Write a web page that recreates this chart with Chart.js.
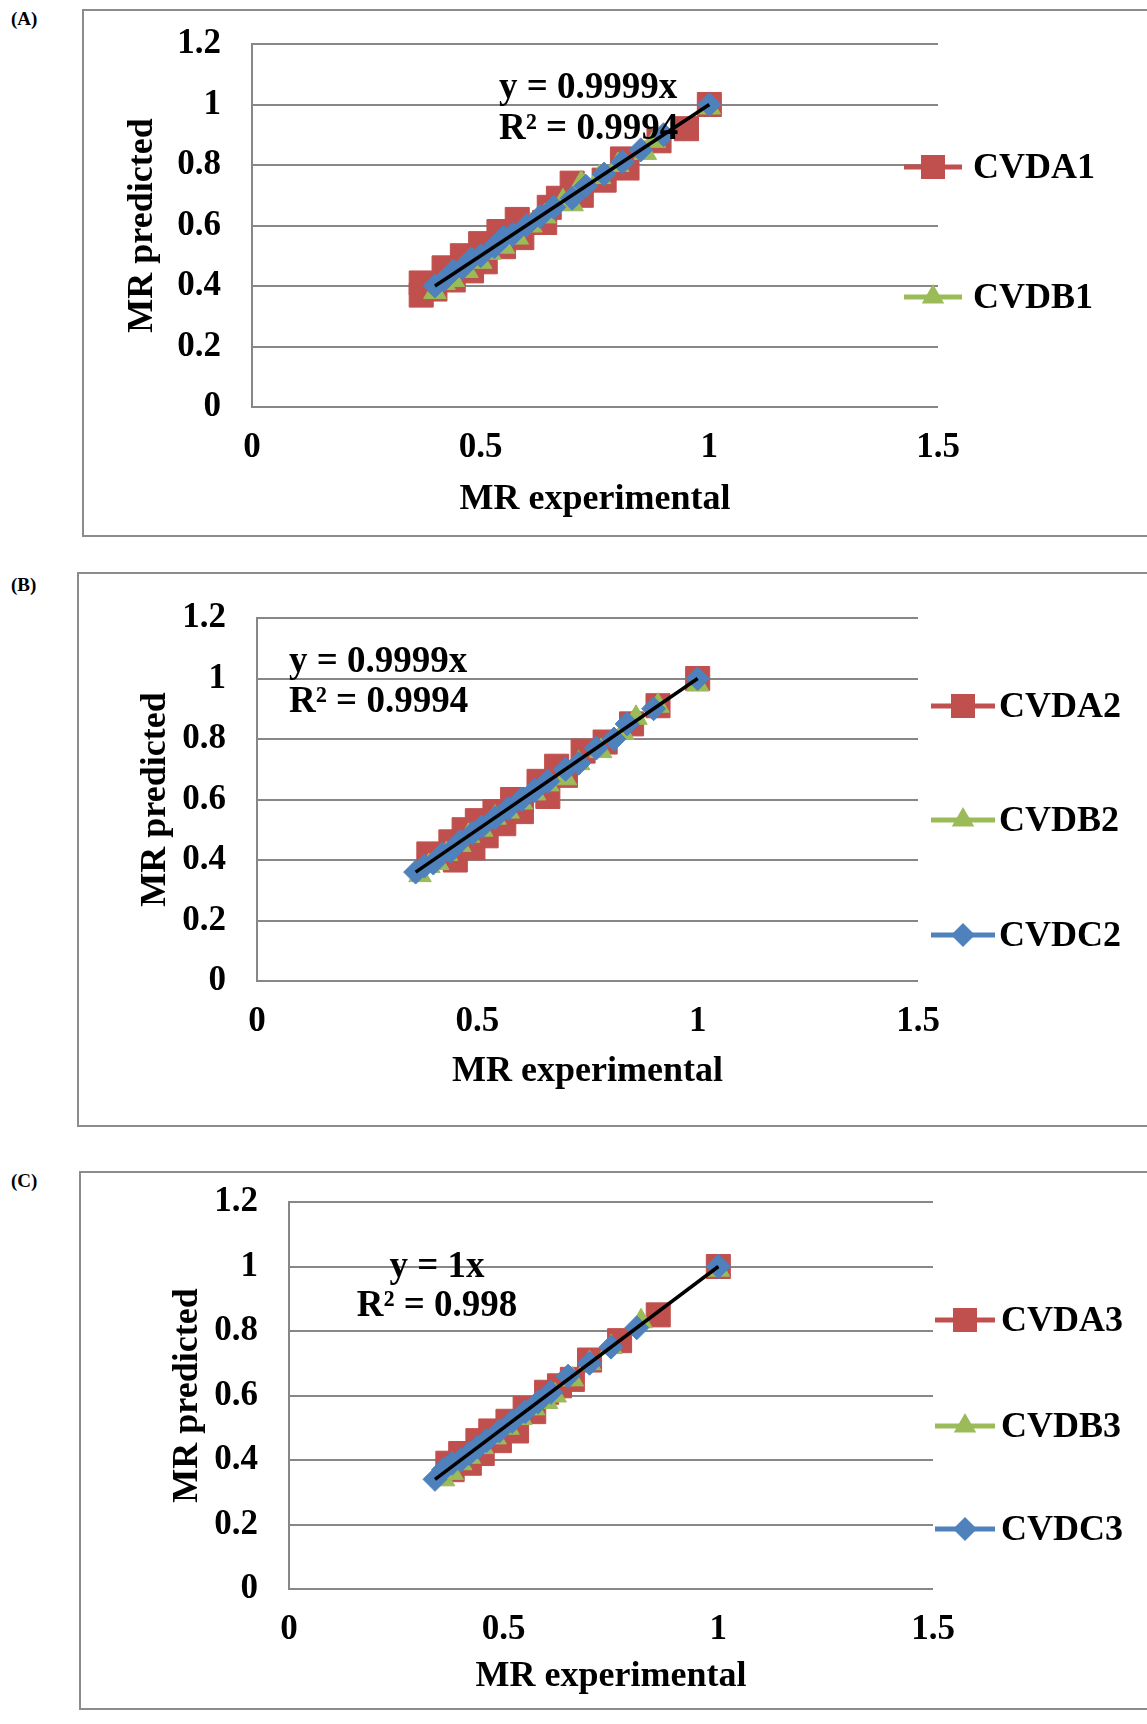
<!DOCTYPE html>
<html>
<head>
<meta charset="utf-8">
<title>MR predicted vs MR experimental</title>
<script src="https://cdn.jsdelivr.net/npm/chart.js@4.4.1/dist/chart.umd.min.js"></script>
<style>
	html, body { margin: 0; padding: 0; background: #fff; }
	#page { position: relative; width: 1147px; height: 1724px; overflow: hidden; }
	.box { position: absolute; right: -10px; border: 2px solid #8c8c8c; box-sizing: border-box; }
	.tag { position: absolute; left: 11px; font: bold 19px 'Liberation Serif', serif; color: #000; }
	canvas { position: absolute; }
</style>
</head>
<body>
<div id="page">
	<div class="box" style="left:82px; top:9px; height:528px;"></div>
	<div class="box" style="left:77px; top:572px; height:555px;"></div>
	<div class="box" style="left:79px; top:1171px; height:539px;"></div>
	<div class="tag" style="top:8px;">(A)</div>
	<div class="tag" style="top:574px;">(B)</div>
	<div class="tag" style="top:1170px;">(C)</div>
	<canvas id="chartA"></canvas>
	<canvas id="chartB"></canvas>
	<canvas id="chartC"></canvas>
</div>
<script>
// axis ticks
var X_TICKS = [0, 0.5, 1, 1.5];
var Y_TICKS = [0, 0.2, 0.4, 0.6, 0.8, 1, 1.2];

// (A) values
var A1_X = [0.37, 0.37, 0.40, 0.42, 0.44, 0.46, 0.48, 0.50, 0.51, 0.54, 0.55, 0.58, 0.59, 0.64, 0.65, 0.67, 0.70, 0.72, 0.77, 0.81, 0.82, 0.89, 0.95, 1.00];
var A1_Y = [0.37, 0.41, 0.39, 0.46, 0.42, 0.50, 0.45, 0.54, 0.48, 0.58, 0.53, 0.62, 0.56, 0.61, 0.66, 0.69, 0.74, 0.70, 0.75, 0.82, 0.79, 0.88, 0.92, 1.00];
var B1_X = [0.40, 0.42, 0.44, 0.47, 0.50, 0.52, 0.55, 0.58, 0.61, 0.64, 0.68, 0.70, 0.72, 0.76, 0.80, 0.86, 0.88, 1.00];
var B1_Y = [0.38, 0.41, 0.42, 0.45, 0.48, 0.51, 0.53, 0.56, 0.60, 0.63, 0.68, 0.67, 0.74, 0.76, 0.80, 0.84, 0.88, 0.99];
var C1_X = [0.40, 0.42, 0.44, 0.46, 0.48, 0.50, 0.53, 0.55, 0.57, 0.60, 0.63, 0.66, 0.70, 0.73, 0.77, 0.81, 0.85, 0.90, 1.00];
var C1_Y = [0.40, 0.42, 0.45, 0.46, 0.49, 0.50, 0.53, 0.56, 0.57, 0.60, 0.63, 0.66, 0.69, 0.73, 0.77, 0.81, 0.85, 0.90, 1.00];
var TREND_A_X = [0.40, 1.00];
var SLOPE_A = 0.9999;

// (B)
var A2_X = [0.39, 0.42, 0.44, 0.45, 0.47, 0.49, 0.50, 0.52, 0.54, 0.56, 0.58, 0.60, 0.64, 0.66, 0.68, 0.70, 0.74, 0.79, 0.85, 0.91, 1.00];
var A2_Y = [0.42, 0.41, 0.46, 0.40, 0.50, 0.44, 0.53, 0.48, 0.56, 0.52, 0.60, 0.56, 0.66, 0.61, 0.71, 0.68, 0.76, 0.79, 0.85, 0.91, 1.00];
var B2_X = [0.37, 0.39, 0.41, 0.43, 0.46, 0.48, 0.51, 0.54, 0.57, 0.60, 0.63, 0.66, 0.70, 0.73, 0.78, 0.83, 0.86, 0.91, 1.00];
var B2_Y = [0.35, 0.38, 0.39, 0.42, 0.45, 0.48, 0.50, 0.54, 0.56, 0.59, 0.62, 0.65, 0.67, 0.72, 0.76, 0.82, 0.87, 0.91, 0.98];
var C2_X = [0.36, 0.38, 0.40, 0.42, 0.44, 0.46, 0.49, 0.51, 0.54, 0.57, 0.60, 0.63, 0.66, 0.70, 0.73, 0.77, 0.81, 0.84, 0.90, 1.00];
var C2_Y = [0.36, 0.38, 0.39, 0.42, 0.43, 0.46, 0.49, 0.51, 0.54, 0.57, 0.60, 0.63, 0.66, 0.70, 0.72, 0.77, 0.80, 0.85, 0.90, 1.00];
var TREND_B_X = [0.36, 1.00];
var SLOPE_B = 0.9999;

// (C)
var A3_X = [0.37, 0.38, 0.40, 0.42, 0.44, 0.45, 0.47, 0.49, 0.51, 0.53, 0.55, 0.57, 0.60, 0.63, 0.66, 0.70, 0.77, 0.86, 1.00];
var A3_Y = [0.39, 0.37, 0.42, 0.39, 0.46, 0.42, 0.49, 0.46, 0.52, 0.49, 0.56, 0.55, 0.61, 0.63, 0.65, 0.71, 0.77, 0.85, 1.00];
var B3_X = [0.36, 0.38, 0.40, 0.42, 0.45, 0.48, 0.51, 0.54, 0.57, 0.60, 0.62, 0.66, 0.70, 0.75, 0.82, 1.00];
var B3_Y = [0.34, 0.36, 0.39, 0.41, 0.44, 0.47, 0.50, 0.53, 0.56, 0.58, 0.60, 0.65, 0.70, 0.75, 0.83, 0.99];
var C3_X = [0.34, 0.36, 0.38, 0.40, 0.42, 0.44, 0.46, 0.49, 0.52, 0.55, 0.58, 0.61, 0.65, 0.70, 0.75, 0.81, 1.00];
var C3_Y = [0.34, 0.37, 0.39, 0.40, 0.42, 0.44, 0.46, 0.49, 0.52, 0.55, 0.58, 0.61, 0.66, 0.70, 0.75, 0.81, 1.00];
var TREND_C_X = [0.34, 1.00];
var SLOPE_C = 1;

var FONT = "'Liberation Serif', 'Times New Roman', serif";
var GRID = '#878787';
var PAGE_W = 1147;
var HEAD = 70; // canvas starts this far above the plot area

// marker looks, Excel 2007 palette
var STYLES = {
	red: { color: '#C0504D', shape: 'rect', r: 17, order: 3 },
	green: { color: '#9BBB59', shape: 'triangle', r: 13, order: 2 },
	blue: { color: '#4F81BD', shape: 'rectRot', r: 12, order: 1 }
};

// layout of each panel, page pixels
var PANELS = [
	{
		id: 'chartA', box: { left: 82, top: 9, bottom: 537 },
		area: { left: 252, top: 44, right: 938, bottom: 407 },
		yTitleX: 143, xTitleY: 500,
		series: [
			{ label: 'CVDA1', x: A1_X, y: A1_Y, kind: 'red' },
			{ label: 'CVDB1', x: B1_X, y: B1_Y, kind: 'green' },
			{ label: 'CVDC1', x: C1_X, y: C1_Y, kind: 'blue' }
		],
		trendX: TREND_A_X, slope: SLOPE_A,
		eq: { text: ['y = 0.9999x', 'R\u00B2 = 0.9994'], x: 499, ys: [88, 129], align: 'left' },
		legend: { items: [0, 1], ys: [167, 297], x1: 904, x2: 962, tx: 973 }
	},
	{
		id: 'chartB', box: { left: 77, top: 572, bottom: 1127 },
		area: { left: 257, top: 618, right: 918, bottom: 981 },
		yTitleX: 156, xTitleY: 1072,
		series: [
			{ label: 'CVDA2', x: A2_X, y: A2_Y, kind: 'red' },
			{ label: 'CVDB2', x: B2_X, y: B2_Y, kind: 'green' },
			{ label: 'CVDC2', x: C2_X, y: C2_Y, kind: 'blue' }
		],
		trendX: TREND_B_X, slope: SLOPE_B,
		eq: { text: ['y = 0.9999x', 'R\u00B2 = 0.9994'], x: 289, ys: [662, 702], align: 'left' },
		legend: { items: [0, 1, 2], ys: [706, 820, 935], x1: 931, x2: 995, tx: 999 }
	},
	{
		id: 'chartC', box: { left: 79, top: 1171, bottom: 1710 },
		area: { left: 289, top: 1202, right: 933, bottom: 1589 },
		yTitleX: 188, xTitleY: 1677,
		series: [
			{ label: 'CVDA3', x: A3_X, y: A3_Y, kind: 'red' },
			{ label: 'CVDB3', x: B3_X, y: B3_Y, kind: 'green' },
			{ label: 'CVDC3', x: C3_X, y: C3_Y, kind: 'blue' }
		],
		trendX: TREND_C_X, slope: SLOPE_C,
		eq: { text: ['y = 1x', 'R\u00B2 = 0.998'], x: 437, ys: [1267, 1306], align: 'center' },
		legend: { items: [0, 1, 2], ys: [1320, 1426, 1529], x1: 935, x2: 995, tx: 1001 }
	}
];

// draws one marker the same way chart.js does
function drawMarker(ctx, kind, x, y) {
	var st = STYLES[kind], r = st.r, h, a, i;
	ctx.fillStyle = st.color;
	ctx.beginPath();
	if (st.shape === 'rect') {
		h = r * Math.SQRT1_2;
		ctx.rect(x - h, y - h, 2 * h, 2 * h);
	} else if (st.shape === 'triangle') {
		for (i = 0; i < 3; i++) {
			a = i * 2 * Math.PI / 3;
			ctx[i ? 'lineTo' : 'moveTo'](x + Math.sin(a) * r, y - Math.cos(a) * r);
		}
	} else {
		ctx.moveTo(x, y - r); ctx.lineTo(x + r, y); ctx.lineTo(x, y + r); ctx.lineTo(x - r, y);
	}
	ctx.closePath();
	ctx.fill();
}

function makePanel(p) {
	var canvas = document.getElementById(p.id),
		left = p.box.left,
		top = p.area.top - HEAD,
		cw = PAGE_W - left,
		ch = p.box.bottom - top,
		lh = 36 * 1.2;
	canvas.width = cw;
	canvas.height = ch;
	canvas.style.left = left + 'px';
	canvas.style.top = top + 'px';

	var sets = p.series.map(function (s) {
		var st = STYLES[s.kind];
		return {
			label: s.label,
			data: s.x.map(function (v, i) { return { x: v, y: s.y[i] }; }),
			showLine: false,
			pointStyle: st.shape,
			pointRadius: st.r,
			pointHoverRadius: st.r,
			backgroundColor: st.color,
			borderColor: st.color,
			borderWidth: 1,
			order: st.order
		};
	});
	sets.push({
		label: 'Linear',
		data: p.trendX.map(function (v) { return { x: v, y: v * p.slope }; }),
		showLine: true,
		pointRadius: 0,
		borderColor: '#000',
		borderWidth: 3.5,
		order: 0
	});

	// legend and trendline label, page coords -> canvas coords
	var overlay = {
		id: 'overlay' + p.id,
		afterDatasetsDraw: function (chart) {
			var ctx = chart.ctx, ox = left, oy = top;
			ctx.save();
			ctx.font = 'bold 37px ' + FONT;
			ctx.fillStyle = '#000';
			ctx.textAlign = p.eq.align;
			ctx.textBaseline = 'middle';
			p.eq.text.forEach(function (t, i) { ctx.fillText(t, p.eq.x - ox, p.eq.ys[i] - oy); });

			ctx.font = 'bold 36px ' + FONT;
			ctx.textAlign = 'left';
			p.legend.items.forEach(function (idx, i) {
				var s = p.series[idx], y = p.legend.ys[i] - oy,
					x1 = p.legend.x1 - ox, x2 = p.legend.x2 - ox;
				ctx.strokeStyle = STYLES[s.kind].color;
				ctx.lineWidth = 5;
				ctx.beginPath(); ctx.moveTo(x1, y); ctx.lineTo(x2, y); ctx.stroke();
				drawMarker(ctx, s.kind, (x1 + x2) / 2, y);
				ctx.fillStyle = '#000';
				ctx.fillText(s.label, p.legend.tx - ox, y + 2);
			});
			ctx.restore();
		}
	};

	var tickFmt = function (v) { return +v.toFixed(1); };

	return new Chart(canvas.getContext('2d'), {
		type: 'scatter',
		data: { datasets: sets },
		plugins: [overlay],
		options: {
			responsive: false,
			animation: false,
			events: [],
			layout: { padding: { left: 0, bottom: 0, top: HEAD, right: PAGE_W - p.area.right } },
			plugins: { legend: { display: false }, tooltip: { enabled: false } },
			scales: {
				x: {
					type: 'linear',
					min: X_TICKS[0], max: X_TICKS[X_TICKS.length - 1],
					ticks: { stepSize: X_TICKS[1] - X_TICKS[0], padding: 20, color: '#000', font: { family: FONT, size: 35, weight: 'bold' }, callback: tickFmt },
					grid: { display: false, drawTicks: false },
					border: { display: false },
					title: {
						display: true, text: 'MR experimental', color: '#000',
						font: { family: FONT, size: 36, weight: 'bold' },
						padding: { top: 0, bottom: p.box.bottom - p.xTitleY - lh / 2 }
					},
					afterFit: function (s) { s.height = p.box.bottom - p.area.bottom; }
				},
				y: {
					type: 'linear',
					min: Y_TICKS[0], max: Y_TICKS[Y_TICKS.length - 1],
					ticks: { stepSize: Y_TICKS[1] - Y_TICKS[0], padding: 31, color: '#000', font: { family: FONT, size: 35, weight: 'bold' }, callback: tickFmt },
					grid: { color: GRID, lineWidth: 2, drawTicks: false },
					border: { display: true, color: GRID, width: 2 },
					title: {
						display: true, text: 'MR predicted', color: '#000',
						font: { family: FONT, size: 36, weight: 'bold' },
						padding: { top: p.yTitleX - left - lh / 2, bottom: 0 }
					},
					afterFit: function (s) { s.width = p.area.left - left; }
				}
			}
		}
	});
}

PANELS.forEach(makePanel);
</script>
</body>
</html>
